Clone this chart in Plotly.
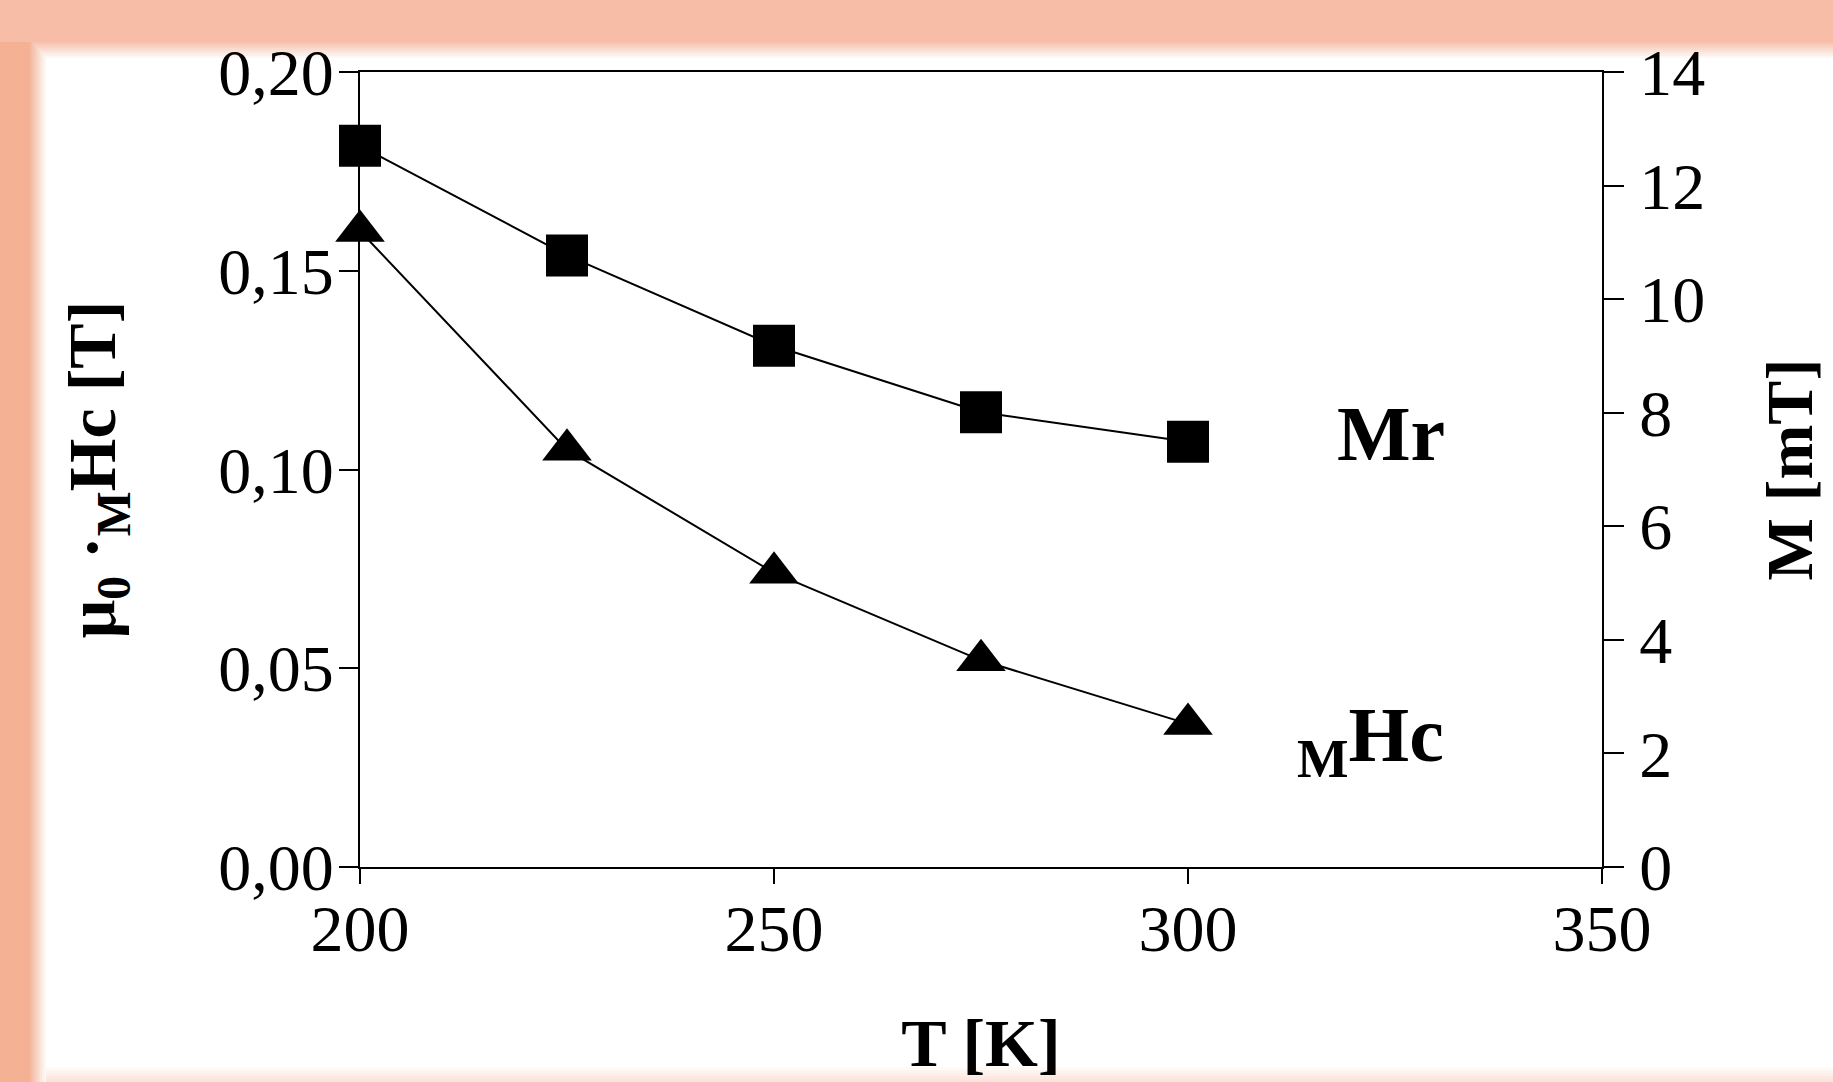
import plotly.graph_objects as go

# ---------------- data ----------------
temperature_K = [200, 225, 250, 275, 300]
mr_mT = [12.70, 10.77, 9.18, 8.01, 7.49]          # squares, right axis (M [mT])
hc_T = [0.160, 0.105, 0.074, 0.052, 0.036]        # triangles, left axis (μ0·MHc [T])

x_ticks = [200, 250, 300, 350]
y_left_ticks = [0.00, 0.05, 0.10, 0.15, 0.20]
y_right_ticks = [0, 2, 4, 6, 8, 10, 12, 14]

label_mr = "<b>Mr</b>"
label_hc = "<b><sub>M</sub>Hc</b>"
x_title = "<b>T [K]</b>"
y_left_title = "<b>μ<sub>0</sub> ·<sub>M</sub>Hc [T]</b>"
y_right_title = "<b>M [mT]</b>"

# ---------------- layout geometry ----------------
W, H = 1833, 1082
L, R, T, B = 360, 1602, 72, 867
PW, PH = R - L, B - T

FONT = "Liberation Serif, Times New Roman, serif"
SALMON_TOP = (247, 189, 166)
SALMON_LEFT = (245, 177, 148)
PINK_BOTTOM = (251, 228, 218)


def px_x(px):
    return (px - L) / PW


def px_y(py):
    return (B - py) / PH


def mix(c, t):
    # t=0 -> colour c, t=1 -> white
    return "rgb(%d,%d,%d)" % tuple(round(v + (255 - v) * t) for v in c)


TOP_END, LEFT_END = 42, 30
shapes = []
n = 8
# top band
shapes.append(dict(type="rect", xref="paper", yref="paper", layer="below",
                   x0=px_x(0), x1=px_x(W), y0=px_y(0), y1=px_y(TOP_END),
                   fillcolor=mix(SALMON_TOP, 0), line_width=0))
for i in range(n):
    y0, y1 = TOP_END + i * 2, TOP_END + 2 + i * 2
    shapes.append(dict(type="rect", xref="paper", yref="paper", layer="below",
                       x0=px_x(LEFT_END + i * 2), x1=px_x(W), y0=px_y(y0), y1=px_y(y1),
                       fillcolor=mix(SALMON_TOP, (i + 1) / (n + 1)), line_width=0))
# left band
shapes.append(dict(type="rect", xref="paper", yref="paper", layer="below",
                   x0=px_x(0), x1=px_x(LEFT_END), y0=px_y(TOP_END), y1=px_y(H),
                   fillcolor=mix(SALMON_LEFT, 0), line_width=0))
for i in range(n):
    x0, x1 = LEFT_END + i * 2, LEFT_END + 2 + i * 2
    shapes.append(dict(type="rect", xref="paper", yref="paper", layer="below",
                       x0=px_x(x0), x1=px_x(x1), y0=px_y(TOP_END + i * 2), y1=px_y(H),
                       fillcolor=mix(SALMON_LEFT, (i + 1) / (n + 1)), line_width=0))
# bottom faint fade
for i in range(5):
    y0 = 1067 + i * 3
    shapes.append(dict(type="rect", xref="paper", yref="paper", layer="below",
                       x0=px_x(LEFT_END + 16), x1=px_x(W), y0=px_y(y0), y1=px_y(y0 + 3),
                       fillcolor=mix(PINK_BOTTOM, 1 - (i + 1) / 5), line_width=0))

fig = go.Figure()

fig.add_trace(go.Scatter(
    x=temperature_K, y=hc_T, mode="lines+markers", name="MHc",
    line=dict(color="black", width=2),
    marker=dict(symbol="triangle-up", size=43, color="black", line=dict(width=0)),
    cliponaxis=False, yaxis="y"))

fig.add_trace(go.Scatter(
    x=temperature_K, y=mr_mT, mode="lines+markers", name="Mr",
    line=dict(color="black", width=2),
    marker=dict(symbol="square", size=42, color="black", line=dict(width=0)),
    cliponaxis=False, yaxis="y2"))

fig.add_annotation(x=324.5, y=0.109, xref="x", yref="y", text=label_mr,
                   showarrow=False, font=dict(family=FONT, size=78, color="black"))
fig.add_annotation(x=322, y=0.032, xref="x", yref="y", text=label_hc,
                   showarrow=False, font=dict(family=FONT, size=78, color="black"))

axis_common = dict(showline=True, linecolor="black", linewidth=2, showgrid=False,
                   zeroline=False, ticks="outside", tickcolor="black", tickwidth=2,
                   automargin=False,
                   tickfont=dict(family=FONT, size=66, color="black"))

fig.update_layout(
    width=W, height=H,
    margin=dict(l=L, r=W - R, t=T, b=H - B, pad=0, autoexpand=False),
    paper_bgcolor="white", plot_bgcolor="white",
    showlegend=False,
    separators=",.",
    shapes=shapes,
    xaxis=dict(range=[200, 350], tickvals=x_ticks, ticklen=15, mirror=True,
               ticklabelstandoff=-12,
               title=dict(text=x_title, font=dict(family=FONT, size=68, color="black"),
                          standoff=54),
               **axis_common),
    yaxis=dict(range=[0, 0.20], tickvals=y_left_ticks, tickformat=".2f", ticklen=19,
               ticklabelstandoff=-8,
               title=dict(text=y_left_title, font=dict(family=FONT, size=68, color="black"),
                          standoff=80),
               **axis_common),
    yaxis2=dict(range=[0, 14], tickvals=y_right_ticks, ticklen=20, overlaying="y",
                side="right", ticklabelstandoff=2,
                title=dict(text=y_right_title, font=dict(family=FONT, size=66, color="black"),
                           standoff=62),
                **axis_common),
)

fig.write_html("out.html")
